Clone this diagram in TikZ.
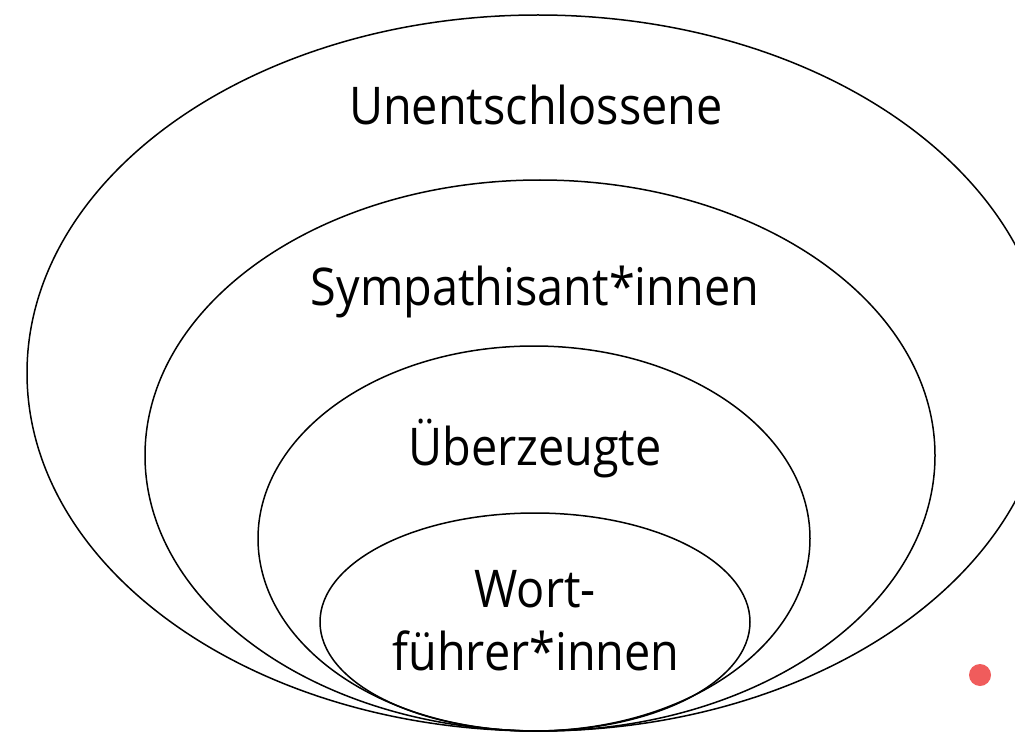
\documentclass[tikz,border=0pt]{standalone}
\usepackage{fontspec}
\setmainfont[FakeStretch=0.9]{Open Sans}
\usetikzlibrary{shapes.geometric}
\definecolor{dotred}{RGB}{240,92,92}
\tikzset{
  ring/.style={ellipse, draw=black, line width=1.5pt, inner sep=0pt},
  lbl/.style={anchor=base, inner sep=0pt, font=\fontsize{52}{62}\selectfont},
}
\begin{document}
\begin{tikzpicture}[x=1pt,y=-1pt]
\useasboundingbox (0,0) rectangle (1015,733);
\fill[white] (0,0) rectangle (1015,733);
\clip (0,0) rectangle (1015,733);
\node[ring, minimum width=1022pt, minimum height=716pt] (e1) at (538,373) {};
\node[ring, minimum width=790pt, minimum height=551pt] (e2) at (540,455.5) {};
\node[ring, minimum width=552pt, minimum height=385pt] (e3) at (534,538.5) {};
\node[ring, minimum width=430pt, minimum height=218pt] (e4) at (535,622) {};
\node[lbl] (t1) at (536,125) {Unentschlossene};
\node[lbl] (t2) at (535,305) {Sympathisant*innen};
\node[lbl] (t3) at (535,465) {Überzeugte};
\node[lbl] (t4) at (535,607) {Wort-};
\node[lbl] (t5) at (536,670) {führer*innen};
\node[circle, fill=dotred, minimum size=22pt, inner sep=0pt] (dot) at (980,675) {};
\end{tikzpicture}
\end{document}
